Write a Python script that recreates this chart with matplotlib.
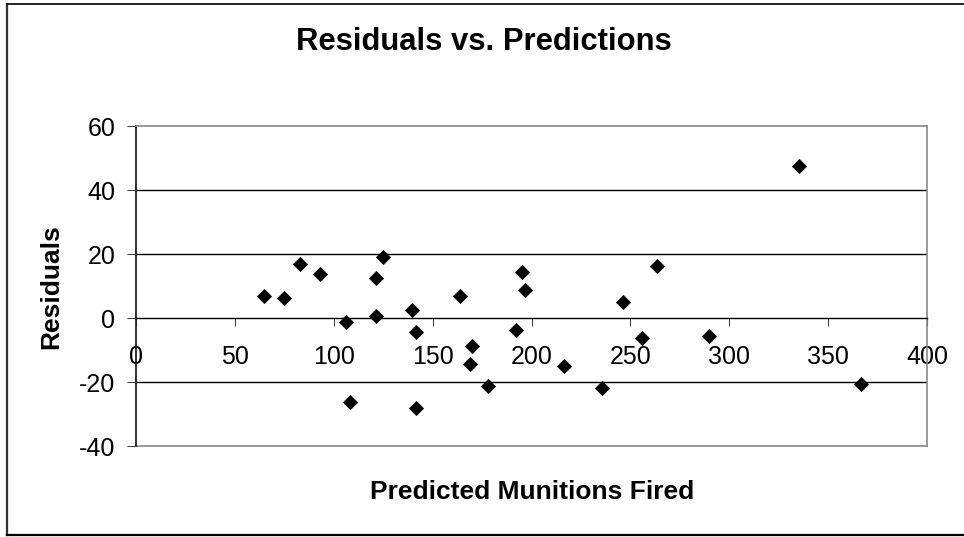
import matplotlib
matplotlib.use("Agg")
import matplotlib.pyplot as plt
from matplotlib.lines import Line2D

plt.rcParams['font.family'] = ['Liberation Sans', 'DejaVu Sans']

predicted = [64.7, 74.8, 82.9, 92.9, 106.3, 108.3, 121.3, 121.3, 124.7, 139.7,
             141.7, 141.6, 164.0, 170.1, 168.9, 178.0, 192.4, 195.4, 196.5,
             216.2, 235.4, 246.5, 255.9, 263.5, 290.0, 335.3, 366.6]
residuals = [7.0, 6.25, 17.0, 13.9, -1.25, -26.25, 12.6, 0.7, 19.0, 2.6,
             -4.3, -28.0, 7.0, -8.6, -14.4, -21.1, -3.6, 14.5, 8.9,
             -15.0, -21.8, 5.0, -6.25, 16.4, -5.6, 47.5, -20.5]

x_ticks = [0, 50, 100, 150, 200, 250, 300, 350, 400]
y_ticks = [-40, -20, 0, 20, 40, 60]
grid_levels = [-20, 20, 40]

title = "Residuals vs. Predictions"
x_label = "Predicted Munitions Fired"
y_label = "Residuals"

W, H = 964, 537
fig = plt.figure(figsize=(W / 100, H / 100), dpi=100)
fig.patch.set_facecolor('white')

left, right, top, bottom = 136, 927, 126, 446
ax = fig.add_axes([left / W, 1 - bottom / H, (right - left) / W, (bottom - top) / H])
ax.set_xlim(0, 400)
ax.set_ylim(-40, 60)

for g in grid_levels:
    ax.axhline(g, color='black', lw=1.0, zorder=1)

ax.scatter(predicted, residuals, marker='D', s=55, color='black',
           edgecolors='black', linewidths=0.3, zorder=3)

# spines
for s in ['top', 'right']:
    ax.spines[s].set_color('#888888')
    ax.spines[s].set_linewidth(1.2)
ax.spines['left'].set_color('#222222')
ax.spines['left'].set_linewidth(1.3)
ax.spines['bottom'].set_position(('data', 0))
ax.spines['bottom'].set_color('black')
ax.spines['bottom'].set_linewidth(1.0)
# gray bottom border of the plot area
ax.add_line(Line2D([0, 1], [0, 0], transform=ax.transAxes, color='#888888',
                   lw=1.2, clip_on=False, zorder=2))

ax.set_xticks(x_ticks)
ax.set_xticklabels([str(t) for t in x_ticks])
ax.set_yticks(y_ticks)
ax.set_yticklabels([str(t) for t in y_ticks])
ax.tick_params(axis='x', direction='out', length=6, width=0.8, color='#444444',
               labelsize=18, pad=13.5)
ax.tick_params(axis='y', direction='out', length=6.5, width=0.8, color='#444444',
               labelsize=18, pad=8.5)

fig.text(484 / W, 1 - 50.5 / H, title, ha='center', va='baseline',
         fontsize=22.3, fontweight='bold')
fig.text(532.5 / W, 1 - 499 / H, x_label, ha='center', va='baseline',
         fontsize=19, fontweight='bold')
fig.text(51 / W, 1 - 287 / H, y_label, ha='center', va='center', rotation=90,
         fontsize=19, fontweight='bold')

# outer chart border
fig.add_artist(Line2D([7 / W, 7 / W], [1 - 535 / H, 1 - 4 / H],
                      transform=fig.transFigure, color='#333333', lw=1.6))
fig.add_artist(Line2D([7 / W, 1.0], [1 - 4 / H, 1 - 4 / H],
                      transform=fig.transFigure, color='black', lw=1.2))
fig.add_artist(Line2D([7 / W, 1.0], [1 - 535 / H, 1 - 535 / H],
                      transform=fig.transFigure, color='black', lw=1.6))

fig.savefig('out.png', dpi=100, facecolor='white')
